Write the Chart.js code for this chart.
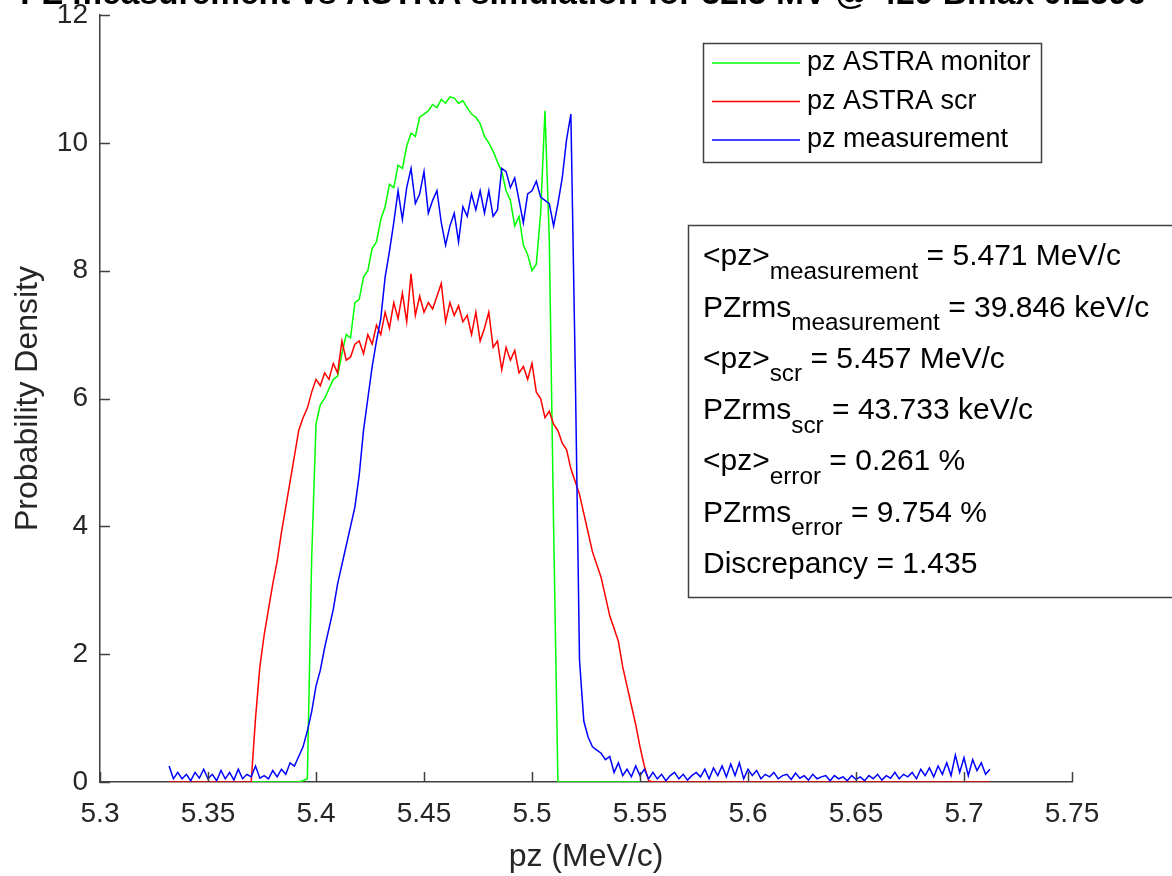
<!DOCTYPE html>
<html>
<head>
<meta charset="utf-8">
<script src="https://cdn.jsdelivr.net/npm/chart.js@4.4.0/dist/chart.umd.min.js"></script>
<style>
  html, body { margin: 0; padding: 0; background: #fff; }
  canvas { display: block; }
</style>
</head>
<body>
<canvas id="grafico" width="1172" height="876"></canvas>
<script>
// eixo x: pz (MeV/c)
const pz = [
  5.332,5.334,5.336,5.338,5.340,5.342,5.344,5.346,5.348,5.350,
  5.352,5.354,5.356,5.358,5.360,5.362,5.364,5.366,5.368,5.370,
  5.372,5.374,5.376,5.378,5.380,5.382,5.384,5.386,5.388,5.390,
  5.392,5.394,5.396,5.398,5.400,5.402,5.404,5.406,5.408,5.410,
  5.412,5.414,5.416,5.418,5.420,5.422,5.424,5.426,5.428,5.430,
  5.432,5.434,5.436,5.438,5.440,5.442,5.444,5.446,5.448,5.450,
  5.452,5.454,5.456,5.458,5.460,5.462,5.464,5.466,5.468,5.470,
  5.472,5.474,5.476,5.478,5.480,5.482,5.484,5.486,5.488,5.490,
  5.492,5.494,5.496,5.498,5.500,5.502,5.504,5.506,5.508,5.510,
  5.512,5.514,5.516,5.518,5.520,5.522,5.524,5.526,5.528,5.530,
  5.532,5.534,5.536,5.538,5.540,5.542,5.544,5.546,5.548,5.550,
  5.552,5.554,5.556,5.558,5.560,5.562,5.564,5.566,5.568,5.570,
  5.572,5.574,5.576,5.578,5.580,5.582,5.584,5.586,5.588,5.590,
  5.592,5.594,5.596,5.598,5.600,5.602,5.604,5.606,5.608,5.610,
  5.612,5.614,5.616,5.618,5.620,5.622,5.624,5.626,5.628,5.630,
  5.632,5.634,5.636,5.638,5.640,5.642,5.644,5.646,5.648,5.650,
  5.652,5.654,5.656,5.658,5.660,5.662,5.664,5.666,5.668,5.670,
  5.672,5.674,5.676,5.678,5.680,5.682,5.684,5.686,5.688,5.690,
  5.692,5.694,5.696,5.698,5.700,5.702,5.704,5.706,5.708,5.710,
  5.712
];

// pz ASTRA monitor (verde)
const pzMonitor = [
  null,null,null,null,null,null,null,null,null,null,
  null,null,null,null,null,null,null,null,null,0,
  0,0,0,0,0,0,0,0,0,0,
  0,0.02,0.05,3.5,5.6,5.9,6.0,6.15,6.3,6.35,
  6.7,7.0,6.95,7.5,7.55,7.9,8.0,8.35,8.45,8.8,
  9.0,9.35,9.3,9.65,9.6,9.95,10.15,10.1,10.4,10.45,
  10.5,10.6,10.55,10.68,10.62,10.72,10.7,10.62,10.66,10.55,
  10.45,10.4,10.3,10.1,10.0,9.87,9.7,9.55,9.25,9.1,
  8.7,8.85,8.4,8.25,8.0,8.1,8.9,10.5,8.5,4.0,
  0,0,0,0,0,0,0,0,0,0,
  0,0,0,0,0,0,0,0,0,0,
  null,null,null,null,null,null,null,null,null,null,
  null,null,null,null,null,null,null,null,null,null,
  null,null,null,null,null,null,null,null,null,null,
  null,null,null,null,null,null,null,null,null,null,
  null,null,null,null,null,null,null,null,null,null,
  null,null,null,null,null,null,null,null,null,null,
  null,null,null,null,null,null,null,null,null,null,
  null,null,null,null,null,null,null,null,null,null,
  null
];

// pz ASTRA scr (vermelho)
const pzScr = [
  0,0,0,0,0,0,0,0,0,0,
  0,0,0,0,0,0,0,0,0,0,
  1.0,1.8,2.3,2.7,3.1,3.45,3.9,4.3,4.7,5.1,
  5.5,5.7,5.85,6.1,6.3,6.2,6.4,6.3,6.55,6.4,
  6.9,6.6,6.65,6.85,6.9,6.7,7.0,6.85,7.15,7.0,
  7.35,7.1,7.5,7.25,7.65,7.2,7.95,7.3,7.6,7.35,
  7.5,7.4,7.6,7.8,7.2,7.5,7.3,7.45,7.2,7.3,
  7.0,7.35,6.9,7.1,7.35,6.8,6.9,6.45,6.8,6.6,
  6.75,6.4,6.5,6.3,6.55,6.1,6.0,5.7,5.8,5.6,
  5.5,5.3,5.2,4.9,4.7,4.5,4.2,3.9,3.6,3.4,
  3.2,2.9,2.6,2.4,2.2,1.8,1.5,1.2,0.9,0.55,
  0.25,0.02,0,0,0,0,0,0,0,0,
  0,0,0,0,0,0,0,0,0,0,
  0,0,0,0,0,0,0,0,0,0,
  0,0,0,0,0,0,0,0,0,0,
  0,0,0,0,0,0,0,0,0,0,
  0,0,0,0,0,0,0,0,0,0,
  0,0,0,0,0,0,0,0,0,0,
  0,0,0,0,0,0,0,0,0,0,
  0
];

// pz measurement (azul)
const pzMedida = [
  0.25,0.05,0.15,0.05,0.12,0.02,0.15,0.06,0.2,0.05,
  0.12,0.02,0.18,0.05,0.15,0.03,0.2,0.05,0.12,0.08,
  0.25,0.06,0.1,0.05,0.18,0.08,0.2,0.12,0.3,0.25,
  0.4,0.55,0.8,1.1,1.5,1.75,2.1,2.4,2.7,3.1,
  3.4,3.7,4.0,4.3,4.8,5.5,6.0,6.5,6.9,7.25,
  7.9,8.3,8.75,9.25,8.8,9.3,9.6,9.05,9.2,9.55,
  8.9,9.1,9.25,8.75,8.4,8.7,8.9,8.45,9.0,8.85,
  9.2,8.95,9.25,8.9,9.25,8.85,8.95,9.6,9.55,9.3,
  9.45,9.1,8.75,9.2,9.25,9.4,9.15,9.1,9.05,8.7,
  9.05,9.45,10.05,10.45,6.5,1.9,0.95,0.7,0.55,0.5,
  0.45,0.35,0.4,0.15,0.3,0.1,0.2,0.08,0.25,0.1,
  0.2,0.05,0.15,0.05,0.12,0.02,0.1,0.15,0.05,0.12,
  0.03,0.1,0.15,0.08,0.2,0.05,0.22,0.1,0.25,0.08,
  0.28,0.1,0.3,0.05,0.2,0.1,0.18,0.05,0.12,0.08,
  0.15,0.05,0.1,0.12,0.04,0.14,0.06,0.1,0.03,0.12,
  0.05,0.08,0.1,0.02,0.1,0.05,0.08,0.02,0.1,0.04,
  0.08,0.02,0.1,0.05,0.12,0.03,0.1,0.06,0.15,0.05,
  0.12,0.08,0.15,0.05,0.2,0.1,0.22,0.08,0.25,0.12,
  0.3,0.1,0.42,0.15,0.38,0.1,0.35,0.18,0.3,0.12,
  0.2
];

const nomesSeries = ["pz ASTRA monitor", "pz ASTRA scr", "pz measurement"];
const coresSeries = ["#00ff00", "#ff0000", "#0000ff"];

const titulo = "PZ measurement vs ASTRA simulation for 32.5 MV @ 429 Bmax 0.2596";

// linhas da caixa de texto: [texto, subscrito, resto]
const linhasInfo = [
  ["<pz>", "measurement", " = 5.471 MeV/c"],
  ["PZrms", "measurement", " = 39.846 keV/c"],
  ["<pz>", "scr", " = 5.457 MeV/c"],
  ["PZrms", "scr", " = 43.733 keV/c"],
  ["<pz>", "error", " = 0.261 %"],
  ["PZrms", "error", " = 9.754 %"],
  ["Discrepancy = 1.435", "", ""]
];

const FONTE = '"Liberation Sans", Arial, Helvetica, sans-serif';
const COR_EIXO = "#404040";
const COR_TEXTO = "#262626";

// desenha ticks para dentro, título, legenda e caixa de texto (estilo MATLAB)
const pluginMatlab = {
  id: "matlab",
  afterDraw(chart) {
    const { ctx, chartArea: area, scales: { x, y } } = chart;
    ctx.save();

    ctx.strokeStyle = COR_EIXO;
    ctx.lineWidth = 1.5;
    ctx.beginPath();
    x.ticks.forEach(t => {
      const px = Math.round(x.getPixelForValue(t.value)) + 0.5;
      ctx.moveTo(px, area.bottom);
      ctx.lineTo(px, area.bottom - 10);
    });
    y.ticks.forEach(t => {
      const py = Math.round(y.getPixelForValue(t.value)) + 0.5;
      ctx.moveTo(area.left, py);
      ctx.lineTo(area.left + 10, py);
    });
    ctx.stroke();

    // título cortado no topo
    ctx.fillStyle = "#000";
    ctx.font = `bold 33.5px ${FONTE}`;
    ctx.textAlign = "center";
    ctx.textBaseline = "alphabetic";
    ctx.fillText(titulo, 583, 4);

    // legenda
    ctx.fillStyle = "#fff";
    ctx.fillRect(703, 43, 338, 119);
    ctx.strokeStyle = COR_EIXO;
    ctx.lineWidth = 1.5;
    ctx.strokeRect(703.5, 43.5, 338, 119);
    ctx.font = `27px ${FONTE}`;
    ctx.textAlign = "left";
    ctx.textBaseline = "middle";
    chart.data.datasets.slice().sort((a, b) => b.order - a.order).forEach((ds, i) => {
      const yy = 63 + i * 38.5;
      ctx.strokeStyle = ds.borderColor;
      ctx.lineWidth = 1.5;
      ctx.beginPath();
      ctx.moveTo(712, yy);
      ctx.lineTo(800, yy);
      ctx.stroke();
      ctx.fillStyle = "#000";
      ctx.fillText(ds.label, 807, yy);
    });

    // caixa de estatísticas
    ctx.fillStyle = "#fff";
    ctx.fillRect(688, 225, 500, 372);
    ctx.strokeStyle = COR_EIXO;
    ctx.strokeRect(688.5, 225.5, 500, 372);
    ctx.fillStyle = "#000";
    ctx.textBaseline = "middle";
    linhasInfo.forEach((l, i) => {
      const yy = 257 + i * 51.3;
      let xx = 703;
      ctx.font = `30px ${FONTE}`;
      ctx.fillText(l[0], xx, yy);
      xx += ctx.measureText(l[0]).width;
      if (l[1]) {
        ctx.font = `24.3px ${FONTE}`;
        ctx.fillText(l[1], xx, yy + 15);
        xx += ctx.measureText(l[1]).width;
      }
      ctx.font = `30px ${FONTE}`;
      ctx.fillText(l[2], xx, yy);
    });

    ctx.restore();
  }
};

const grafico = new Chart(document.getElementById("grafico"), {
  type: "line",
  data: {
    labels: pz,
    datasets: [
      { label: nomesSeries[0], data: pzMonitor, borderColor: coresSeries[0], order: 3 },
      { label: nomesSeries[1], data: pzScr, borderColor: coresSeries[1], order: 2 },
      { label: nomesSeries[2], data: pzMedida, borderColor: coresSeries[2], order: 1 }
    ]
  },
  options: {
    responsive: false,
    animation: false,
    devicePixelRatio: 1,
    spanGaps: false,
    elements: {
      point: { radius: 0 },
      line: { borderWidth: 1.5, tension: 0 }
    },
    layout: { padding: { top: 15, right: 100, left: 0, bottom: 0 } },
    plugins: {
      legend: { display: false },
      tooltip: { enabled: false },
      title: { display: false }
    },
    scales: {
      x: {
        type: "linear",
        min: 5.3,
        max: 5.75,
        grid: { display: false, drawTicks: false },
        border: { display: true, color: COR_EIXO, width: 1.5 },
        ticks: {
          stepSize: 0.05,
          padding: 15,
          color: COR_TEXTO,
          font: { family: FONTE, size: 28 },
          maxRotation: 0,
          autoSkip: false,
          callback: v => String(+v.toFixed(2))
        },
        title: {
          display: true,
          text: "pz (MeV/c)",
          color: COR_TEXTO,
          font: { family: FONTE, size: 32 },
          padding: { top: 0, bottom: 0 }
        },
        afterFit: s => { s.height = 94; s.paddingLeft = 0; s.paddingRight = 0; }
      },
      y: {
        min: 0,
        max: 12,
        grid: { display: false, drawTicks: false },
        border: { display: true, color: COR_EIXO, width: 1.5 },
        ticks: {
          stepSize: 2,
          padding: 12,
          color: COR_TEXTO,
          font: { family: FONTE, size: 28 }
        },
        title: {
          display: true,
          text: "Probability Density",
          color: COR_TEXTO,
          font: { family: FONTE, size: 32 },
          padding: { top: 9, bottom: 0 }
        },
        afterFit: s => { s.width = 100; s.paddingTop = 0; s.paddingBottom = 0; }
      }
    }
  },
  plugins: [pluginMatlab]
});
</script>
</body>
</html>
